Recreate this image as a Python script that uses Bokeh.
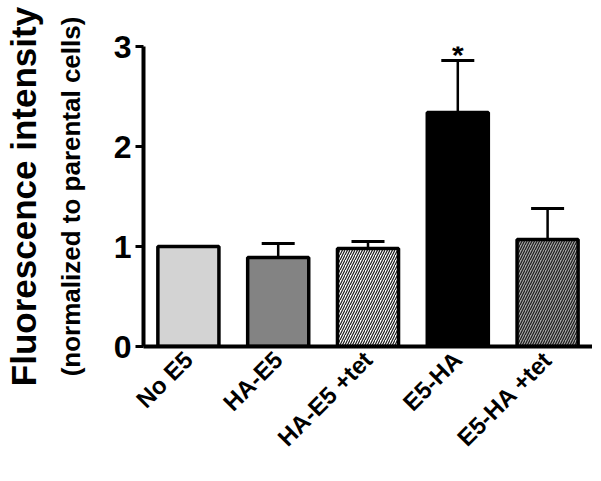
import math
from bokeh.plotting import figure
from bokeh.models import (ColumnDataSource, FactorRange, Range1d, LinearAxis,
                          FixedTicker, Whisker, TeeHead)
from bokeh.core.properties import value
from bokeh.embed import file_html
from bokeh.resources import INLINE

categories = ["No E5", "HA-E5", "HA-E5 +tet", "E5-HA", "E5-HA +tet"]
means = [1.00, 0.89, 0.98, 2.34, 1.07]
err_upper = [1.00, 1.03, 1.05, 2.86, 1.38]
fills = ["#d3d3d3", "#838383", "#ffffff", "#000000", "#a6a6a6"]
hatches = [" ", " ", "/", " ", "/"]
y_ticks = [0, 1, 2, 3]
star_cats = ["E5-HA"]
star_y = [2.86]

FONT = "Liberation Sans"

p = figure(width=592, height=465, output_backend="svg", toolbar_location=None,
           x_range=FactorRange(factors=categories, range_padding=0),
           y_range=Range1d(0, 3))
p.min_border_left = 142
p.min_border_right = 0
p.min_border_top = 46
p.min_border_bottom = 119
p.outline_line_color = None
p.grid.visible = False
p.background_fill_color = "white"
p.border_fill_color = "white"

src = ColumnDataSource(dict(x=categories, top=means, fill=fills, hatch=hatches))
p.vbar(x="x", top="top", bottom=0, width=0.68, source=src,
       fill_color="fill", line_color="black", line_width=3.5,
       hatch_pattern="hatch", hatch_color="#1a1a1a", hatch_scale=5,
       hatch_weight=1.2)

esrc = ColumnDataSource(dict(x=categories, lower=means, upper=err_upper))
wh = Whisker(base="x", lower="lower", upper="upper", source=esrc,
             dimension="height", line_color="black", line_width=2.5,
             upper_head=TeeHead(size=33, line_width=3, line_color="black"),
             lower_head=None)
p.add_layout(wh)

p.text(x=star_cats, y=star_y, text=["*"], text_font=value(FONT),
       text_font_style="bold", text_font_size="30px", text_align="center",
       text_baseline="alphabetic", y_offset=-6, text_color="black")

# y axis (inner)
ya = p.yaxis[0]
ya.ticker = FixedTicker(ticks=y_ticks)
ya.axis_line_width = 4
ya.major_tick_line_width = 3
ya.major_tick_out = 8
ya.major_tick_in = 0
ya.minor_tick_line_color = None
ya.major_label_text_font = FONT
ya.major_label_text_font_style = "bold"
ya.major_label_text_font_size = "32px"
ya.major_label_text_color = "black"
ya.major_label_standoff = 4
ya.axis_label = "(normalized to parental cells)"
ya.axis_label_text_font = FONT
ya.axis_label_text_font_style = "bold"
ya.axis_label_text_font_size = "26px"
ya.axis_label_text_color = "black"
ya.axis_label_standoff = 25

# outer axis holding main title
ya2 = LinearAxis(ticker=FixedTicker(ticks=[]), axis_line_color=None,
                 major_tick_line_color=None, minor_tick_line_color=None,
                 major_label_text_font_size="0px",
                 axis_label="Fluorescence intensity",
                 axis_label_text_font=FONT, axis_label_text_font_style="bold",
                 axis_label_text_font_size="35px", axis_label_text_color="black",
                 axis_label_standoff=10)
p.add_layout(ya2, "left")

xa = p.xaxis[0]
xa.axis_line_width = 4
xa.major_tick_line_color = None
xa.minor_tick_line_color = None
xa.major_label_orientation = math.pi / 4
xa.major_label_text_font = FONT
xa.major_label_text_font_style = "bold"
xa.major_label_text_font_size = "24px"
xa.major_label_text_color = "black"
xa.major_label_standoff = 3

open("out.html", "w").write(file_html(p, INLINE))
